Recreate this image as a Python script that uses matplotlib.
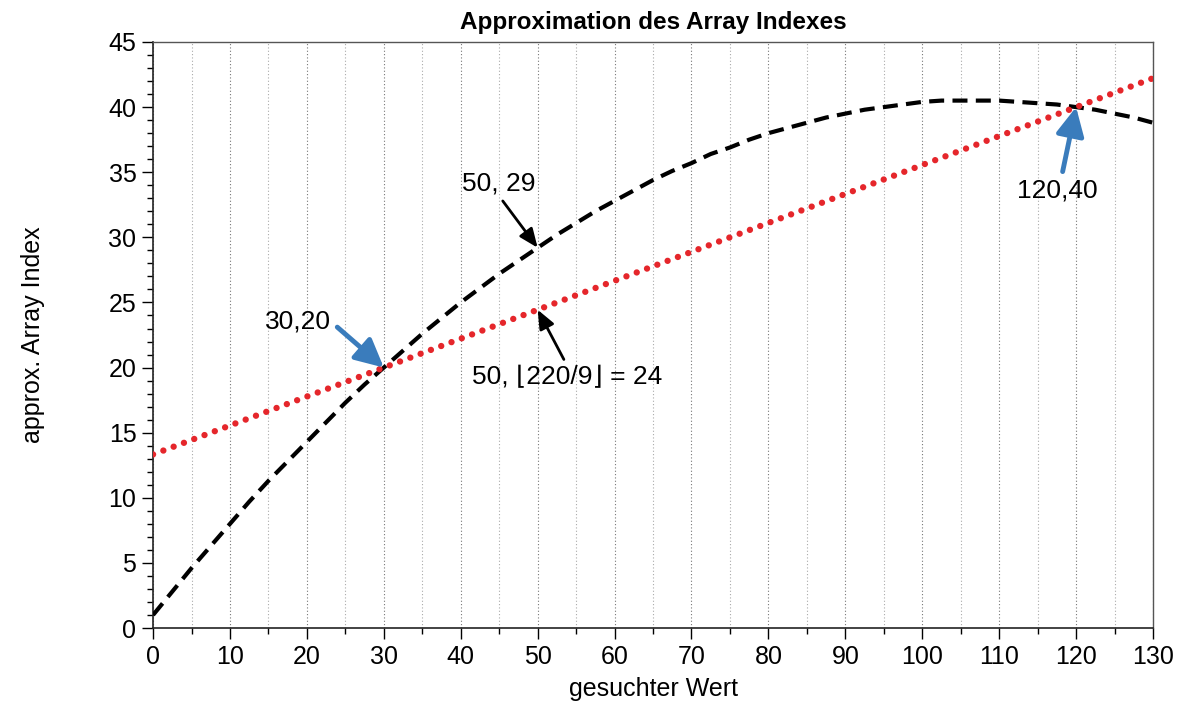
import matplotlib
matplotlib.use("Agg")
import matplotlib.pyplot as plt
from matplotlib.ticker import MultipleLocator

plt.rcParams["font.family"] = ["Liberation Sans", "DejaVu Sans"]

# black dashed curve, every 2.5 units
curve_x = [0, 2.5, 5, 7.5, 10, 12.5, 15, 17.5, 20, 22.5, 25, 27.5, 30, 32.5, 35, 37.5,
           40, 42.5, 45, 47.5, 50, 52.5, 55, 57.5, 60, 62.5, 65, 67.5, 70, 72.5,
           75, 77.5, 80, 82.5, 85, 87.5, 90, 92.5, 95, 97.5, 100, 102.5, 105, 107.5,
           110, 112.5, 115, 117.5, 120, 122.5, 125, 127.5, 130]
curve_y = [1.0, 2.8, 4.6, 6.3, 8.0, 9.7, 11.3, 12.8, 14.3, 15.8, 17.3, 18.7, 20.0, 21.3,
           22.6, 23.8, 25.0, 26.1, 27.2, 28.2, 29.2, 30.2, 31.1, 32.0, 32.8, 33.6, 34.4,
           35.1, 35.7, 36.4, 36.9, 37.5, 38.0, 38.4, 38.8, 39.2, 39.5, 39.8, 40.0, 40.2,
           40.4, 40.5, 40.5, 40.5, 40.5, 40.4, 40.3, 40.2, 40.0, 39.8, 39.5, 39.2, 38.8]

# red dotted line (straight)
line_x = [0, 130]
line_y = [13.33, 42.22]

# annotations: text, point, text position
blue_notes = [("30,20", (30, 20), (14.6, 23.5)),
              ("120,40", (120, 40), (112.3, 33.6))]
black_notes = [("50, 29", (50, 29.2), (40.2, 34.1)),
               ("50, \u230a220/9\u230b = 24", (50, 24.44), (41.4, 19.3))]

fig = plt.figure(figsize=(11.81, 7.07), dpi=100)
ax = fig.add_axes([0.1296, 0.1117, 0.8467, 0.8289])

ax.plot(curve_x, curve_y, color="black", lw=3.0, linestyle=(0, (3.6, 2.0)),
        dash_capstyle="butt", zorder=3)
ax.plot(line_x, line_y, color="#e5262b", lw=4.6, linestyle=(0, (0.001, 1.72)),
        dash_capstyle="round", zorder=4)

ax.set_xlim(0, 130)
ax.set_ylim(0, 45)
ax.xaxis.set_major_locator(MultipleLocator(10))
ax.xaxis.set_minor_locator(MultipleLocator(5))
ax.yaxis.set_major_locator(MultipleLocator(5))
ax.yaxis.set_minor_locator(MultipleLocator(1))
ax.tick_params(which="major", direction="out", length=8, width=1.0, labelsize=18, pad=4)
ax.tick_params(which="minor", direction="out", length=4.5, width=1.0)
ax.tick_params(top=False, right=False, which="both")

ax.grid(axis="x", which="major", color="#777777", linestyle=(0, (1, 2)), lw=0.8)
ax.grid(axis="x", which="minor", color="#aaaaaa", linestyle=(0, (1, 2)), lw=0.8)
ax.grid(axis="y", which="both", visible=False)

for side in ["left", "bottom"]:
    ax.spines[side].set_color("#222222")
    ax.spines[side].set_linewidth(1.2)
for side in ["top", "right"]:
    ax.spines[side].set_color("#555555")
    ax.spines[side].set_linewidth(1.0)

for text, xy, xytext in blue_notes:
    ax.annotate(text, xy=xy, xytext=xytext, fontsize=19, va="center", ha="left",
                arrowprops=dict(arrowstyle="-|>,head_length=0.9,head_width=0.45",
                                color="#3a7cbc", lw=3.5, shrinkA=3, shrinkB=0,
                                relpos=(1.0, 0.5) if xy[0] < 50 else (0.55, 1.0)),
                zorder=5)

for text, xy, xytext in black_notes:
    ax.annotate(text, xy=xy, xytext=xytext, fontsize=19, va="center", ha="left",
                arrowprops=dict(arrowstyle="-|>,head_length=0.6,head_width=0.25",
                                color="black", lw=2, shrinkA=2, shrinkB=0,
                                relpos=(0.5, 0.0) if xy[1] > 25 else (0.5, 1.0)),
                zorder=5)

ax.set_title("Approximation des Array Indexes", fontsize=17.5, fontweight="bold", pad=9)
ax.set_xlabel("gesuchter Wert", fontsize=18, labelpad=6)
ax.set_ylabel("approx. Array Index", fontsize=18, labelpad=46)

fig.savefig("out.png", dpi=100)
